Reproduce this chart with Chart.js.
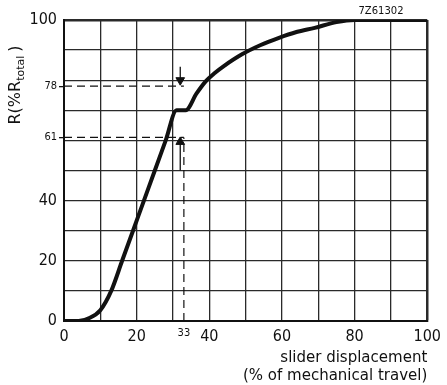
<!DOCTYPE html>
<html>
<head>
<meta charset="utf-8">
<script src="https://cdn.jsdelivr.net/npm/chart.js@4"></script>
<style>
  html, body { margin: 0; padding: 0; background: #fff; }
  #wrap { width: 447px; height: 385px; }
</style>
</head>
<body>
<div id="wrap"><canvas id="curveChart" width="447" height="385"></canvas></div>
<script>
// resistance law curve
const travel = [0, 4, 7, 10, 13, 16, 19, 22, 25, 28, 31, 33.5, 36.5, 39, 41.5, 44, 49, 54, 59, 64, 69, 75, 80, 100];
const resistance = [0, 0, 1, 3.6, 10, 20, 30, 40, 50, 60, 70, 70, 75.6, 79.6, 82.4, 84.7, 88.6, 91.6, 94, 96, 97.4, 99.3, 100, 100];

// tick values and which of them get a label
const xTicks = [0, 10, 20, 30, 33, 40, 50, 60, 70, 80, 90, 100];
const xLabels = [0, 20, 33, 40, 60, 80, 100];
const yTicks = [0, 10, 20, 30, 40, 50, 60, 61, 70, 78, 80, 90, 100];
const yLabels = [0, 20, 40, 61, 78, 100];
const smallTicks = [33, 61, 78];

// dashed guide lines and arrows
const markX = 33;
const markLow = 61;
const markHigh = 78;
const arrowX = 32;
const arrowDown = [84.5, 80];
const arrowUp = [50, 59.5];

const ink = '#111';
const gridInk = '#2a2a2a';

const tickVal = (c) => (c && c.tick ? c.tick.value : null);
const isSmall = (c) => smallTicks.includes(tickVal(c));

const guide = (pts) => ({
  data: pts,
  showLine: true,
  borderColor: ink,
  borderWidth: 1.2,
  borderDash: [8, 5],
  pointRadius: 0
});

const arrow = (pts, rot) => ({
  data: pts,
  showLine: true,
  borderColor: ink,
  borderWidth: 1.3,
  pointStyle: 'triangle',
  rotation: rot,
  pointRadius: [0, 5],
  pointBackgroundColor: ink,
  pointBorderColor: ink,
  pointBorderWidth: 1
});

const textPlugin = {
  id: 'texts',
  afterDraw(chart) {
    const c = chart.ctx;
    c.save();
    c.fillStyle = ink;
    // y axis title with subscript
    c.translate(16, 85);
    c.rotate(-Math.PI / 2);
    const big = '16px "DejaVu Sans"';
    const small = '11px "DejaVu Sans"';
    c.font = big;
    const w1 = c.measureText('R(%R').width;
    const w3 = c.measureText(')').width;
    c.font = small;
    const w2 = c.measureText('total').width;
    let x = -(w1 + w2 + w3 + 4) / 2;
    c.textBaseline = 'middle';
    c.textAlign = 'left';
    c.font = big;
    c.fillText('R(%R', x, 0);
    x += w1;
    c.font = small;
    c.fillText('total', x, 5);
    x += w2 + 4;
    c.font = big;
    c.fillText(')', x, 0);
    c.restore();

    // drawing number
    c.save();
    c.fillStyle = ink;
    c.font = '10px "DejaVu Sans"';
    c.textAlign = 'center';
    c.textBaseline = 'middle';
    c.fillText('7Z61302', 381, 11);
    c.restore();
  }
};

const ctx = document.getElementById('curveChart');
new Chart(ctx.getContext('2d'), {
  type: 'scatter',
  data: {
    datasets: [
      {
        data: travel.map((v, i) => ({ x: v, y: resistance[i] })),
        showLine: true,
        borderColor: ink,
        borderWidth: 4,
        pointRadius: 0,
        cubicInterpolationMode: 'monotone'
      },
      guide([{ x: 0, y: markHigh }, { x: markX, y: markHigh }]),
      guide([{ x: 0, y: markLow }, { x: markX, y: markLow }]),
      guide([{ x: markX, y: 0 }, { x: markX, y: markLow }]),
      arrow([{ x: arrowX, y: arrowDown[0] }, { x: arrowX, y: arrowDown[1] }], 180),
      arrow([{ x: arrowX, y: arrowUp[0] }, { x: arrowX, y: arrowUp[1] }], 0)
    ]
  },
  options: {
    responsive: false,
    animation: false,
    layout: {
      padding: { top: 20, right: 17, left: 0, bottom: 0 }
    },
    plugins: {
      legend: { display: false },
      tooltip: { enabled: false }
    },
    scales: {
      x: {
        type: 'linear',
        min: 0,
        max: 100,
        afterBuildTicks: function (scale) {
          scale.ticks = xTicks.map(v => ({ value: v }));
        },
        afterFit: function (scale) {
          scale.height = 64;
        },
        border: { color: ink, width: 2 },
        grid: {
          color: function (c) {
            return isSmall(c) ? 'rgba(0,0,0,0)' : gridInk;
          },
          lineWidth: function (c) {
            return tickVal(c) === 100 ? 2.5 : 1.3;
          },
          drawTicks: false
        },
        ticks: {
          autoSkip: false,
          maxRotation: 0,
          padding: 6,
          color: ink,
          font: function (c) {
            return isSmall(c)
              ? { family: 'DejaVu Sans Condensed', size: 11 }
              : { family: 'DejaVu Sans Condensed', size: 16 };
          },
          callback: function (value) {
            return xLabels.includes(value) ? String(value) : '';
          }
        },
        title: {
          display: true,
          text: ['slider displacement', '(% of mechanical travel)'],
          align: 'end',
          color: ink,
          font: { family: 'DejaVu Sans', size: 15 },
          padding: { top: 2, bottom: 0 }
        }
      },
      y: {
        type: 'linear',
        min: 0,
        max: 100,
        afterBuildTicks: function (scale) {
          scale.ticks = yTicks.map(v => ({ value: v }));
        },
        afterFit: function (scale) {
          scale.width = 64;
        },
        border: { color: ink, width: 2 },
        grid: {
          color: function (c) {
            return isSmall(c) ? 'rgba(0,0,0,0)' : gridInk;
          },
          lineWidth: function (c) {
            return tickVal(c) === 100 ? 2.5 : 1.3;
          },
          tickColor: function (c) {
            return isSmall(c) ? ink : 'rgba(0,0,0,0)';
          },
          tickLength: 5
        },
        ticks: {
          autoSkip: false,
          padding: 2,
          color: ink,
          font: function (c) {
            return isSmall(c)
              ? { family: 'DejaVu Sans Condensed', size: 11 }
              : { family: 'DejaVu Sans Condensed', size: 16 };
          },
          callback: function (value) {
            return yLabels.includes(value) ? String(value) : '';
          }
        }
      }
    }
  },
  plugins: [textPlugin]
});
</script>
</body>
</html>
